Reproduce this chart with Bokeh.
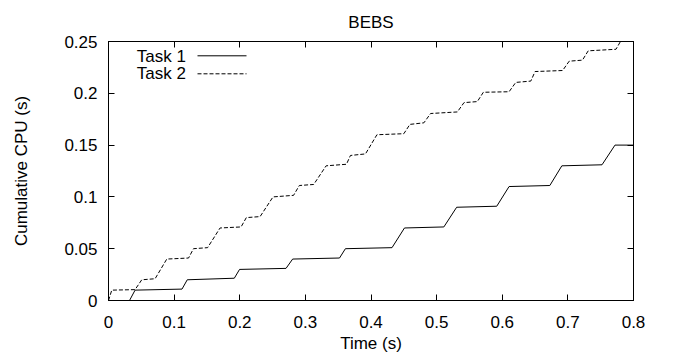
from bokeh.plotting import figure
from bokeh.models import LinearAxis, Range1d, FixedTicker, Label, Arrow
from bokeh.embed import file_html
from bokeh.resources import INLINE

# ---- data ----
title_text = "BEBS"
x_label = "Time (s)"
y_label = "Cumulative CPU (s)"
series_names = ["Task 1", "Task 2"]

task1_time = [0.032, 0.0405, 0.112, 0.120, 0.1917, 0.1997, 0.2705, 0.2806, 0.352, 0.361,
              0.432, 0.451, 0.511, 0.5305, 0.5916, 0.6104, 0.6725, 0.6908, 0.752, 0.7718, 0.8]
task1_cpu = [0.0, 0.010, 0.011, 0.020, 0.0215, 0.030, 0.031, 0.040, 0.041, 0.050,
             0.051, 0.070, 0.071, 0.090, 0.091, 0.110, 0.111, 0.130, 0.131, 0.150, 0.150]

task2_time = [0.0, 0.005, 0.0405, 0.0507, 0.071, 0.0888, 0.122, 0.1295, 0.151, 0.170,
              0.202, 0.210, 0.231, 0.2507, 0.282, 0.2908, 0.3127, 0.3316, 0.3626, 0.3687,
              0.3916, 0.409, 0.450, 0.4593, 0.4806, 0.4908, 0.5316, 0.5417, 0.562, 0.5712,
              0.6104, 0.6206, 0.6435, 0.650, 0.692, 0.702, 0.7222, 0.731, 0.7733, 0.7815]
task2_cpu = [0.0, 0.010, 0.0105, 0.020, 0.021, 0.040, 0.041, 0.050, 0.051, 0.070,
             0.071, 0.080, 0.081, 0.100, 0.1015, 0.111, 0.112, 0.130, 0.1315, 0.140,
             0.1415, 0.160, 0.161, 0.170, 0.1715, 0.1805, 0.182, 0.191, 0.192, 0.201,
             0.2015, 0.2105, 0.2118, 0.221, 0.222, 0.231, 0.232, 0.241, 0.2425, 0.2515]

x_ticks = [0.0, 0.1, 0.2, 0.3, 0.4, 0.5, 0.6, 0.7, 0.8]
x_tick_labels = ["0", "0.1", "0.2", "0.3", "0.4", "0.5", "0.6", "0.7", "0.8"]
y_ticks = [0.0, 0.05, 0.1, 0.15, 0.2, 0.25]
y_tick_labels = ["0", "0.05", "0.1", "0.15", "0.2", "0.25"]

FONT = "Liberation Sans"
FS = "17px"

p = figure(frame_width=525, frame_height=259,
           x_range=Range1d(0, 0.8), y_range=Range1d(0, 0.25),
           output_backend="svg", toolbar_location=None,
           min_border_left=108, min_border_right=40, min_border_top=41, min_border_bottom=60,
           title=title_text)

p.background_fill_color = "white"
p.border_fill_color = "white"
p.outline_line_color = "black"
p.outline_line_width = 1
p.xgrid.visible = False
p.ygrid.visible = False

p.title.text_font = FONT
p.title.text_font_size = FS
p.title.text_font_style = "normal"
p.title.align = "center"
p.title.standoff = 20
p.title.text_color = "black"

def style_axis(ax, ticks, labels, show_labels=True):
    ax.ticker = FixedTicker(ticks=ticks)
    ax.major_tick_in = 6
    ax.major_tick_out = 0
    ax.minor_tick_line_color = None
    ax.major_tick_line_color = "black"
    ax.axis_line_color = "black"
    ax.major_label_text_font = FONT
    ax.major_label_text_color = "black"
    if show_labels:
        ax.major_label_text_font_size = FS
        ax.major_label_overrides = dict(zip(ticks, labels))
    else:
        ax.major_label_text_font_size = "1px"
        ax.major_label_overrides = {t: "" for t in ticks}
        ax.major_label_standoff = 0

xa = p.xaxis[0]
style_axis(xa, x_ticks, x_tick_labels)
xa.major_label_standoff = 15
xa.axis_label = x_label
xa.axis_label_text_font = FONT
xa.axis_label_text_font_size = FS
xa.axis_label_text_font_style = "normal"
xa.axis_label_text_color = "black"
xa.axis_label_standoff = 3

ya = p.yaxis[0]
style_axis(ya, y_ticks, y_tick_labels)
ya.major_label_standoff = 11
ya.axis_label = y_label
ya.axis_label_text_font = FONT
ya.axis_label_text_font_size = FS
ya.axis_label_text_font_style = "normal"
ya.axis_label_text_color = "black"
ya.axis_label_standoff = 30

top_ax = LinearAxis()
style_axis(top_ax, x_ticks, x_tick_labels, show_labels=False)
p.add_layout(top_ax, "above")
right_ax = LinearAxis()
style_axis(right_ax, y_ticks, y_tick_labels, show_labels=False)
p.add_layout(right_ax, "right")

p.line(task1_time, task1_cpu, line_color="black", line_width=1)
p.line(task2_time, task2_cpu, line_color="black", line_width=1, line_dash="4 2")

# gnuplot-style key: name (right aligned) followed by a sample of the line
key_text_y = [244.0, 227.4]
key_line_y = [244.7, 226.7]
key_dash = ["solid", "4 2"]
for name, ty, ly, dash in zip(series_names, key_text_y, key_line_y, key_dash):
    p.add_layout(Label(x=77.5, y=ty, x_units="screen", y_units="screen", text=name,
                       text_align="right", text_baseline="middle",
                       text_font=FONT, text_font_size=FS, text_color="black"))
    p.add_layout(Arrow(end=None, x_start=89, y_start=ly, x_end=138, y_end=ly,
                       start_units="screen", end_units="screen",
                       line_color="black", line_width=1, line_dash=dash))

open("out.html", "w").write(file_html(p, INLINE))
